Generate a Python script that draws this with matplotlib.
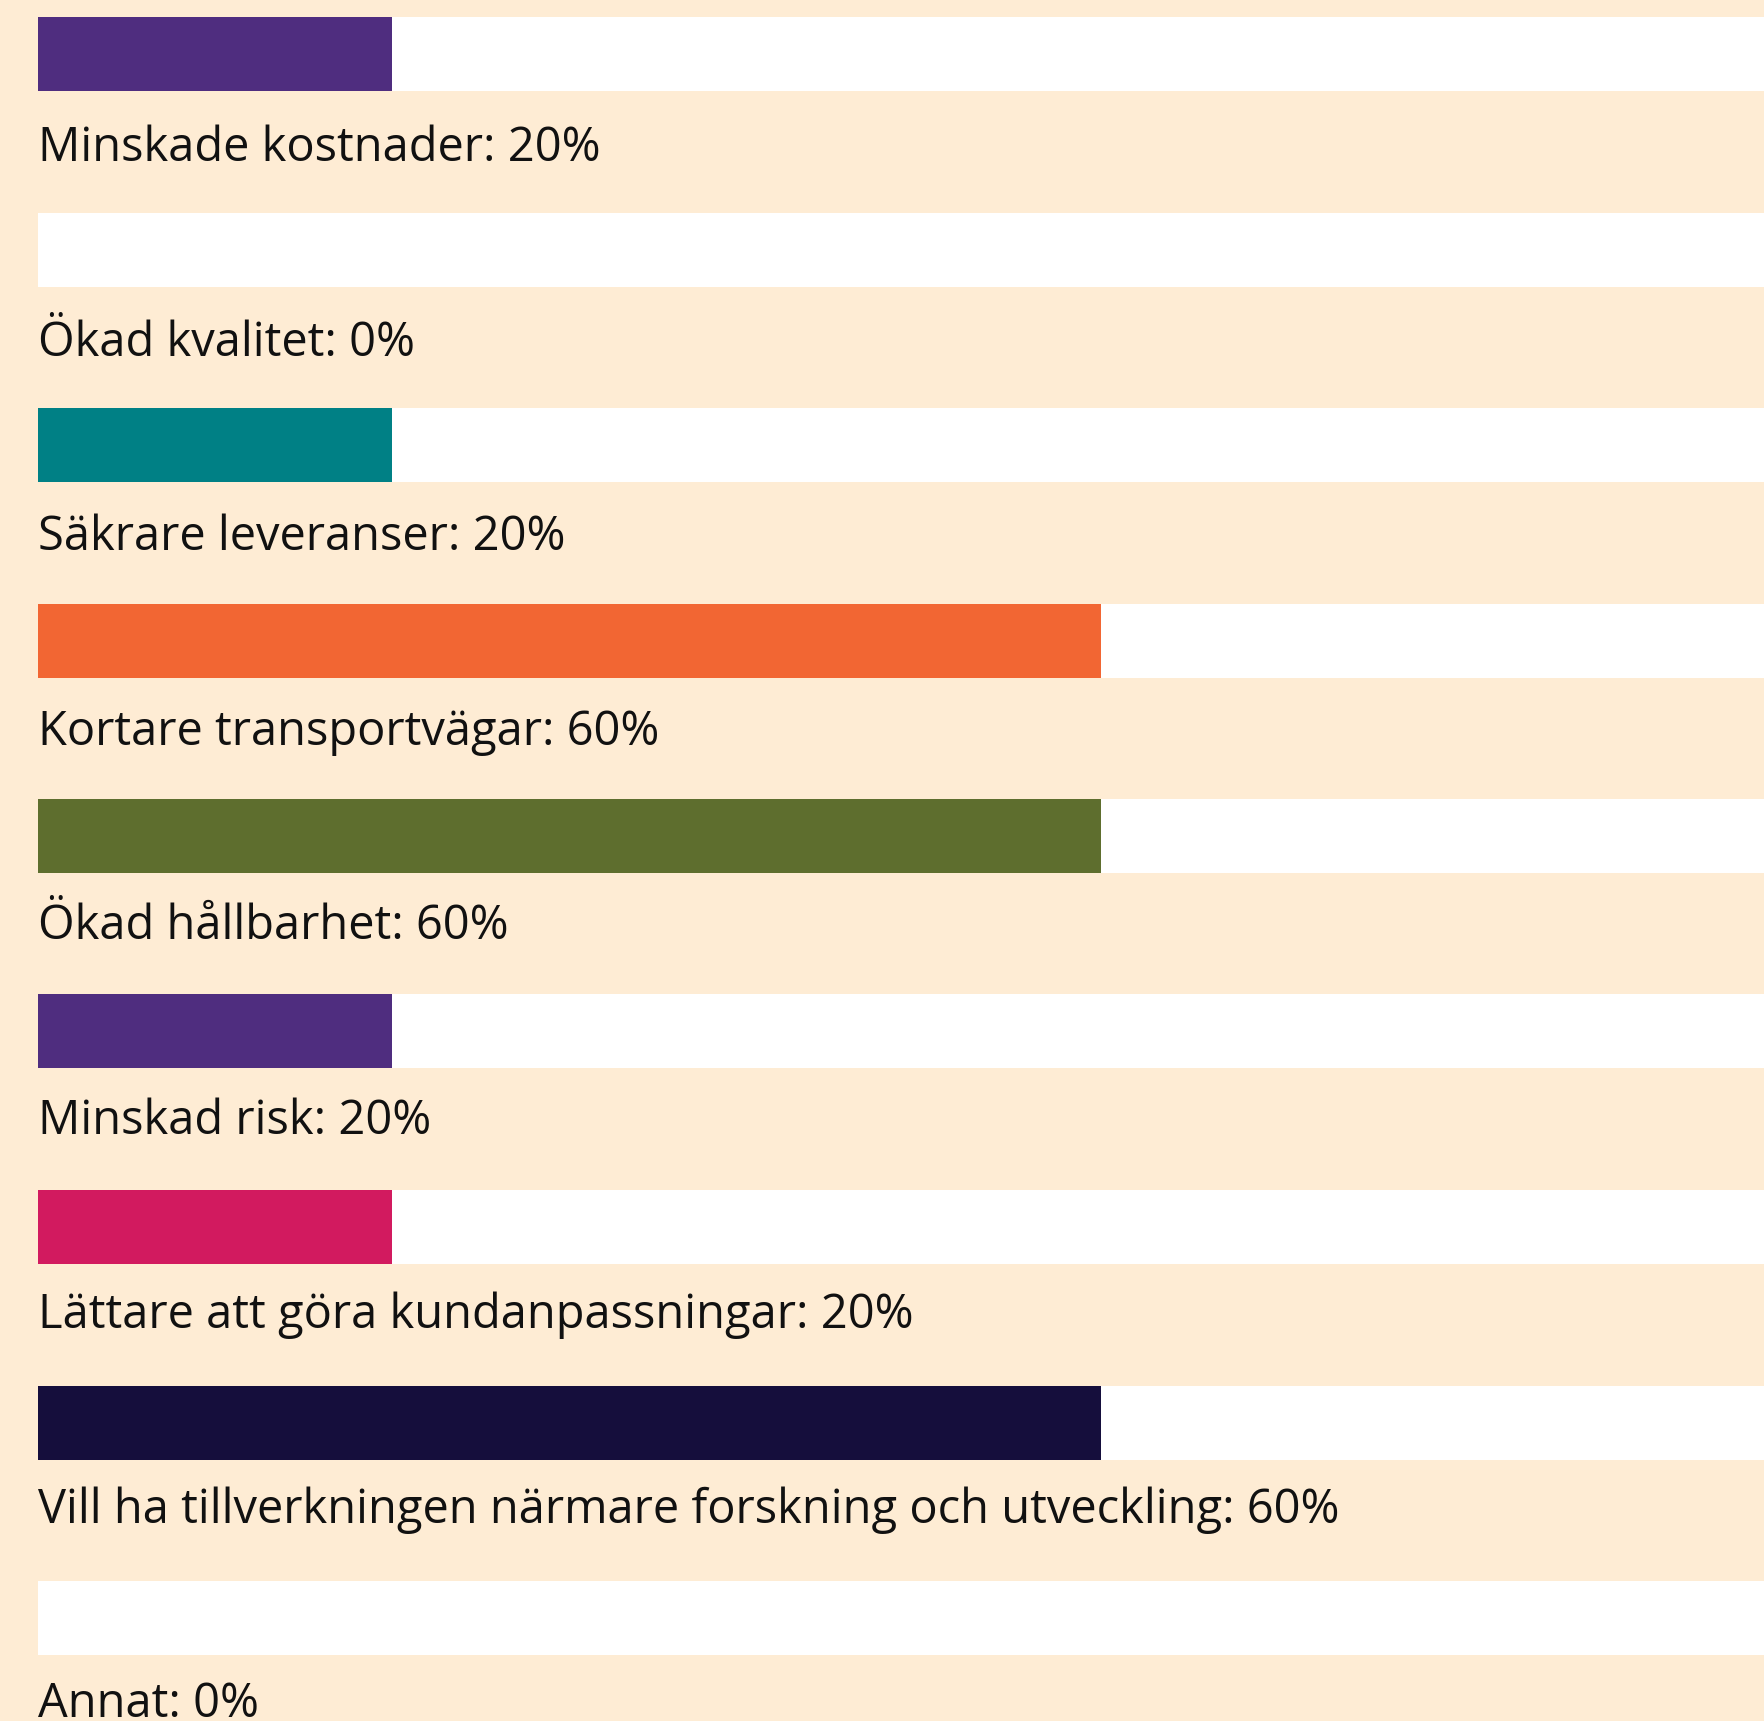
import matplotlib
matplotlib.use("Agg")
import matplotlib.pyplot as plt

categories = [
    "Minskade kostnader",
    "Ökad kvalitet",
    "Säkrare leveranser",
    "Kortare transportvägar",
    "Ökad hållbarhet",
    "Minskad risk",
    "Lättare att göra kundanpassningar",
    "Vill ha tillverkningen närmare forskning och utveckling",
    "Annat",
]
values = [20, 0, 20, 60, 60, 20, 20, 60, 0]
colors = ["#4F2D7F", "#4F2D7F", "#008085", "#F26633", "#5E6E2E",
          "#4F2D7F", "#D21A5F", "#150E3C", "#4F2D7F"]

BG = "#FEECD4"
W, H, DPI = 1764, 1721, 100

fig = plt.figure(figsize=(W / DPI, H / DPI), dpi=DPI, facecolor=BG)
ax = fig.add_axes([0, 0, 1, 1])
ax.set_facecolor(BG)

px_per_pct = (1101 - 38) / 60.0
x0 = -38 / px_per_pct
x1 = (W - 38) / px_per_pct
spacing = 195.5
center0 = 54
ax.set_xlim(x0, x1)
ax.set_ylim((H - center0) / spacing, -center0 / spacing)

bar_h = 74 / spacing
ys = list(range(len(categories)))
ax.barh(ys, [100] * len(ys), height=bar_h, color="white", left=0)
ax.barh(ys, values, height=bar_h, color=colors, left=0)

text_step = 194.5 / spacing
text_off = (161 - center0) / spacing
for i, (c, v) in enumerate(zip(categories, values)):
    ax.text(0.0, i * text_step + text_off, f"{c}: {v}%", fontsize=33.8,
            family="Open Sans", color="#111111", va="baseline", ha="left")

ax.axis("off")
fig.savefig("out.png", dpi=DPI, facecolor=BG)
